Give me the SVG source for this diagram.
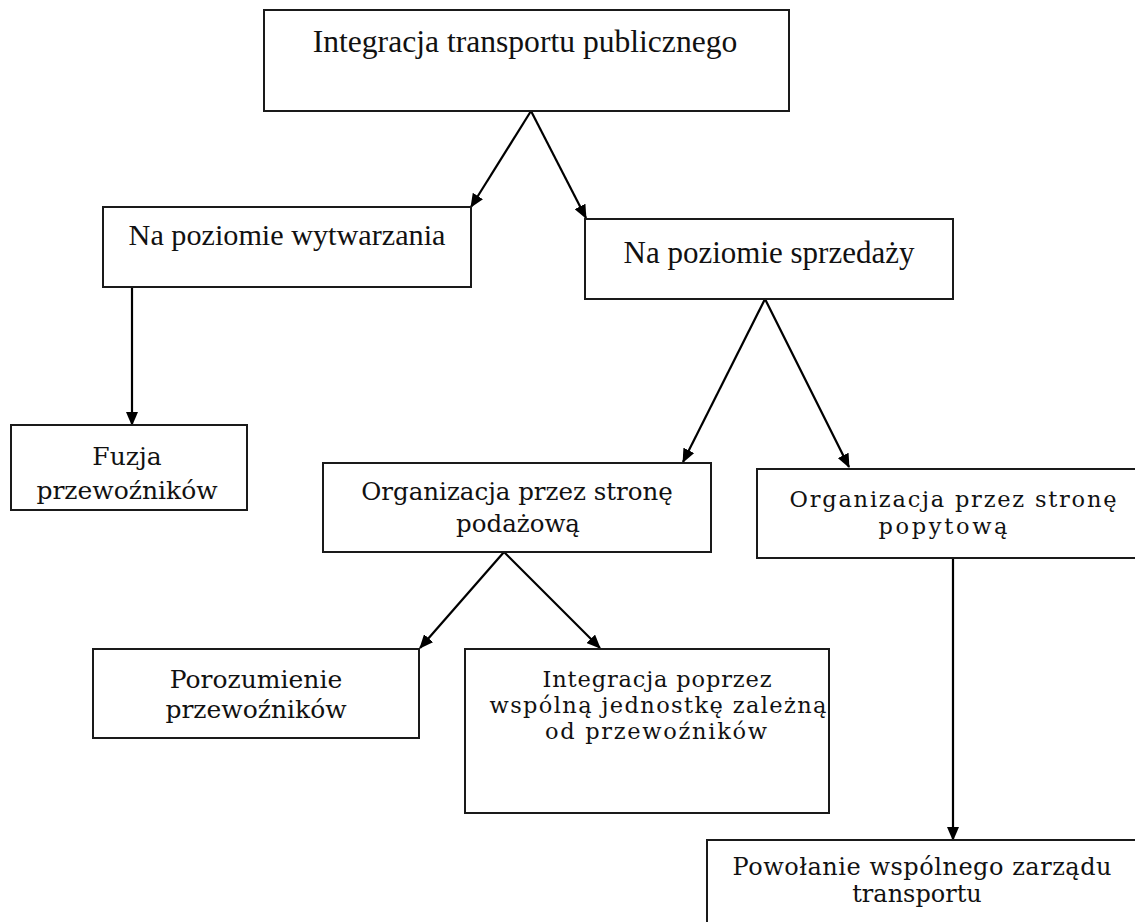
<svg xmlns="http://www.w3.org/2000/svg" width="1135" height="922" viewBox="0 0 1135 922">
  <style>
    .box { fill: #fff; stroke: #1a1a1a; stroke-width: 2; }
    .t1 { font-family: "Liberation Serif", "Times New Roman", serif; font-size: 31px; fill: #111; text-anchor: middle; }
    .t2 { font-family: "DejaVu Serif", serif; font-size: 25px; fill: #111; text-anchor: middle; }
    .s { font-size: 22.5px; }
    .edge { stroke: #000; stroke-width: 2.2; fill: none; marker-end: url(#arr); }
  </style>
  <defs>
    <marker id="arr" viewBox="0 0 14 12" refX="13" refY="6" markerWidth="14" markerHeight="12" markerUnits="userSpaceOnUse" orient="auto">
      <path d="M0,0 L14,6 L0,12 z" fill="#000"/>
    </marker>
  </defs>
  <rect width="1135" height="922" fill="#fff"/>

  <g id="connectors">
    <line class="edge" x1="531" y1="111" x2="471" y2="207"/>
    <line class="edge" x1="531" y1="111" x2="586" y2="218"/>
    <line class="edge" x1="132" y1="287" x2="132" y2="425"/>
    <line class="edge" x1="765" y1="299" x2="683" y2="462"/>
    <line class="edge" x1="765" y1="299" x2="849" y2="467"/>
    <line class="edge" x1="504" y1="552" x2="420" y2="648"/>
    <line class="edge" x1="504" y1="552" x2="600" y2="648"/>
    <line class="edge" x1="953" y1="558" x2="953" y2="840"/>
  </g>

  <g id="n1">
    <rect class="box" x="264" y="10" width="525" height="101"/>
    <text class="t1" x="525" y="52" style="font-size:31.6px">Integracja transportu publicznego</text>
  </g>
  <g id="n2">
    <rect class="box" x="103" y="207" width="368" height="80"/>
    <text class="t1" x="287" y="245" style="font-size:30.2px">Na poziomie wytwarzania</text>
  </g>
  <g id="n3">
    <rect class="box" x="585" y="219" width="368" height="80"/>
    <text class="t1" x="769" y="263">Na poziomie sprzedaży</text>
  </g>
  <g id="n4">
    <rect class="box" x="11" y="425" width="236" height="85"/>
    <text class="t2" x="127" y="465">Fuzja</text>
    <text class="t2" x="127" y="499">przewoźników</text>
  </g>
  <g id="n5">
    <rect class="box" x="323" y="463" width="388" height="89"/>
    <text class="t2" x="517" y="500" style="font-size:24.5px">Organizacja przez stronę</text>
    <text class="t2" x="518" y="532" style="font-size:24.5px">podażową</text>
  </g>
  <g id="n6">
    <rect class="box" x="757" y="469" width="390" height="89"/>
    <text class="t2 s" x="953" y="507" textLength="327" lengthAdjust="spacing">Organizacja przez stronę</text>
    <text class="t2 s" x="943" y="534" textLength="129" lengthAdjust="spacing">popytową</text>
  </g>
  <g id="n7">
    <rect class="box" x="93" y="649" width="326" height="89"/>
    <text class="t2" x="256" y="688">Porozumienie</text>
    <text class="t2" x="256" y="718">przewoźników</text>
  </g>
  <g id="n8">
    <rect class="box" x="465" y="649" width="364" height="164"/>
    <text class="t2 s" x="657" y="687" textLength="229" lengthAdjust="spacing">Integracja poprzez</text>
    <text class="t2 s" x="658" y="713" textLength="337" lengthAdjust="spacing">wspólną jednostkę zależną</text>
    <text class="t2 s" x="656" y="739" textLength="222" lengthAdjust="spacing">od przewoźników</text>
  </g>
  <g id="n9">
    <rect class="box" x="707" y="840" width="440" height="100"/>
    <text class="t2" x="922" y="875" style="font-size:24px" textLength="379" lengthAdjust="spacing">Powołanie wspólnego zarządu</text>
    <text class="t2" x="917" y="902" style="font-size:24px">transportu</text>
  </g>
</svg>
